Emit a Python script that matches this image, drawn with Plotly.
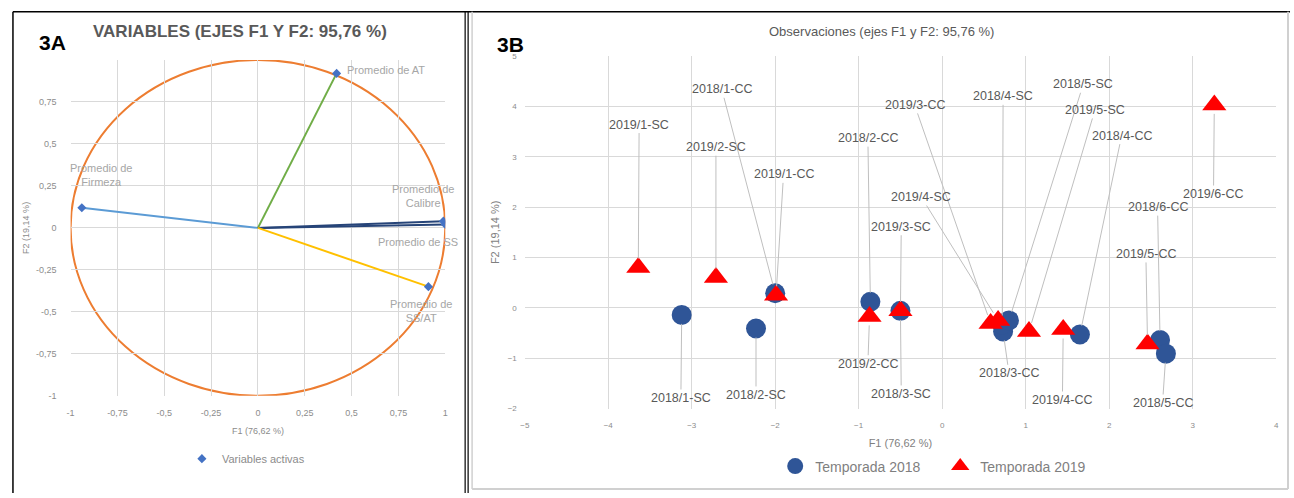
import plotly.graph_objects as go

W, H = 1294, 498

# ---------------- 3A : correlation circle (variables) ----------------
var_names = ["Promedio de<br>Firmeza", "Promedio de AT", "Promedio de<br>Calibre",
             "Promedio de SS", "Promedio de<br>SS/AT"]
var_f1 = [-0.94, 0.42, 0.99, 1.00, 0.91]
var_f2 = [0.12, 0.92, 0.04, 0.02, -0.35]

a_tickvals = [-1, -0.75, -0.5, -0.25, 0, 0.25, 0.5, 0.75, 1]
a_xticktext = ["-1", "-0,75", "-0,5", "-0,25", "0", "0,25", "0,5", "0,75", "1"]
a_yticktext = ["-1", "-0,75", "-0,5", "-0,25", "0", "0,25", "0,5", "0,75", ""]

# ---------------- 3B : observations ----------------
obs18_labels = ["2018/1-SC", "2018/2-SC", "2018/1-CC", "2018/2-CC", "2018/3-SC", "2018/3-CC",
                "2018/4-SC", "2018/5-SC", "2018/4-CC", "2018/6-CC", "2018/5-CC"]
obs18_f1 = [-3.12, -2.23, -2.00, -0.86, -0.50, 0.73, 0.72, 0.80, 1.65, 2.61, 2.68]
obs18_f2 = [-0.14, -0.41, 0.29, 0.12, -0.06, -0.47, -0.33, -0.25, -0.53, -0.64, -0.91]

obs19_labels = ["2019/1-SC", "2019/2-SC", "2019/1-CC", "2019/2-CC", "2019/3-SC", "2019/3-CC",
                "2019/4-SC", "2019/5-SC", "2019/4-CC", "2019/5-CC", "2019/6-CC"]
obs19_f1 = [-3.64, -2.71, -1.99, -0.87, -0.50, 0.58, 0.67, 1.04, 1.45, 2.46, 3.26]
obs19_f2 = [0.80, 0.60, 0.25, -0.17, -0.06, -0.31, -0.25, -0.47, -0.43, -0.72, 4.03]

b_xtickvals = [-5, -4, -3, -2, -1, 0, 1, 2, 3, 4]
b_ytickvals = [-2, -1, 0, 1, 2, 3, 4, 5]

# ---------------- layout-only settings (positions / styles) ----------------
var_colors = ["#5B9BD5", "#70AD47", "#264478", "#264478", "#FFC000"]
# label offsets (px) relative to each variable point: (xshift, yshift, xanchor)
var_label_off = [(19, 33, "center"), (8, 3, "left"), (13, 25, "right"),
                 (15, -17, "right"), (-7, -24, "center")]
# leader-line label positions in data units
lab_pos = {
    "2018/1-CC": (-2.64, 4.34), "2019/1-SC": (-3.63, 3.64), "2019/2-SC": (-2.71, 3.19),
    "2019/1-CC": (-1.90, 2.65), "2018/2-CC": (-0.89, 3.37), "2019/3-CC": (-0.33, 4.03),
    "2018/4-SC": (0.73, 4.20), "2018/5-SC": (1.69, 4.44), "2019/5-SC": (1.83, 3.93),
    "2018/4-CC": (2.15, 3.42), "2019/4-SC": (-0.25, 2.20), "2019/3-SC": (-0.49, 1.61),
    "2019/6-CC": (3.25, 2.26), "2018/6-CC": (2.58, 2.00), "2019/5-CC": (2.44, 1.07),
    "2018/1-SC": (-3.13, -1.79), "2018/2-SC": (-2.23, -1.73), "2019/2-CC": (-0.89, -1.11),
    "2018/3-SC": (-0.49, -1.71), "2018/3-CC": (0.80, -1.30), "2019/4-CC": (1.44, -1.83),
    "2018/5-CC": (2.64, -1.89),
}

FONT = "Liberation Sans, Arial, sans-serif"
GRID = "#D9D9D9"


def px_x(p):
    return p / W


def px_y(p):
    return 1 - p / H


fig = go.Figure()

# 3A vectors
for i in range(len(var_names)):
    fig.add_trace(go.Scatter(x=[0, var_f1[i]], y=[0, var_f2[i]], mode="lines",
                             line=dict(color=var_colors[i], width=2),
                             showlegend=False, hoverinfo="skip", xaxis="x", yaxis="y"))
fig.add_trace(go.Scatter(x=var_f1, y=var_f2, mode="markers", name="Variables activas",
                         marker=dict(symbol="diamond", size=7, color="#4472C4"),
                         xaxis="x", yaxis="y", legend="legend"))

# 3B observations
fig.add_trace(go.Scatter(x=obs18_f1, y=obs18_f2, mode="markers", name="Temporada 2018",
                         text=obs18_labels, marker=dict(symbol="circle", size=20, color="#2F5597"),
                         xaxis="x2", yaxis="y2", legend="legend2"))
fig.add_trace(go.Scatter(x=obs19_f1, y=obs19_f2, mode="markers", name="Temporada 2019",
                         text=obs19_labels, marker=dict(symbol="triangle-up", size=21, color="#FF0000"),
                         xaxis="x2", yaxis="y2", legend="legend2"))

annotations = []
# 3A labels
for i, name in enumerate(var_names):
    xs, ys, xa = var_label_off[i]
    annotations.append(dict(x=var_f1[i], y=var_f2[i], xref="x", yref="y", text=name,
                            showarrow=False, xshift=xs, yshift=ys, xanchor=xa, align="center",
                            font=dict(family=FONT, size=11, color="#A6A6A6")))
# 3B leader labels
for labs, xs_, ys_ in [(obs18_labels, obs18_f1, obs18_f2), (obs19_labels, obs19_f1, obs19_f2)]:
    for lab, xv, yv in zip(labs, xs_, ys_):
        lx, ly = lab_pos[lab]
        annotations.append(dict(x=xv, y=yv, xref="x2", yref="y2", ax=lx, ay=ly,
                                axref="x2", ayref="y2", text=lab, showarrow=True,
                                arrowhead=0, arrowwidth=1, arrowcolor="#BFBFBF", standoff=9,
                                font=dict(family=FONT, size=12.5, color="#595959")))
# titles
annotations += [
    dict(x=px_x(236), y=px_y(28), xref="paper", yref="paper", showarrow=False,
         xanchor="center", yanchor="middle",
         text="<b>VARIABLES (EJES F1 Y F2: 95,76 %)</b>",
         font=dict(family=FONT, size=17, color="#595959")),
    dict(x=px_x(48), y=px_y(39), xref="paper", yref="paper", showarrow=False,
         xanchor="center", yanchor="middle",
         text="<b>3A</b>", font=dict(family=FONT, size=21, color="#000000")),
    dict(x=px_x(882), y=px_y(28), xref="paper", yref="paper", showarrow=False,
         xanchor="center", yanchor="middle",
         text="Observaciones (ejes F1 y F2: 95,76 %)",
         font=dict(family=FONT, size=13, color="#595959")),
    dict(x=px_x(509), y=px_y(41), xref="paper", yref="paper", showarrow=False,
         xanchor="center", yanchor="middle",
         text="<b>3B</b>", font=dict(family=FONT, size=21, color="#000000")),
]

shapes = [
    # correlation circle
    dict(type="circle", xref="x", yref="y", x0=-1, y0=-1, x1=1, y1=1,
         line=dict(color="#ED7D31", width=2), layer="below"),
    # panel frames
    dict(type="line", xref="paper", yref="paper", x0=px_x(8), x1=px_x(1293), y0=px_y(8), y1=px_y(8),
         line=dict(color="#000000", width=1.5)),
    dict(type="line", xref="paper", yref="paper", x0=px_x(8), x1=px_x(8), y0=px_y(8), y1=px_y(498),
         line=dict(color="#000000", width=1.5)),
    dict(type="line", xref="paper", yref="paper", x0=px_x(463), x1=px_x(463), y0=px_y(8), y1=px_y(498),
         line=dict(color="#000000", width=1.2)),
    dict(type="line", xref="paper", yref="paper", x0=px_x(466), x1=px_x(466), y0=px_y(8), y1=px_y(498),
         line=dict(color="#000000", width=1.2)),
    dict(type="line", xref="paper", yref="paper", x0=px_x(470), x1=px_x(470), y0=px_y(8), y1=px_y(494),
         line=dict(color="#D0D0D0", width=1.5)),
    dict(type="line", xref="paper", yref="paper", x0=px_x(470), x1=px_x(1291), y0=px_y(494), y1=px_y(494),
         line=dict(color="#D0D0D0", width=2)),
    dict(type="line", xref="paper", yref="paper", x0=px_x(1291), x1=px_x(1291), y0=px_y(8), y1=px_y(494),
         line=dict(color="#D0D0D0", width=2)),
]

tickfont_a = dict(family=FONT, size=9, color="#8C8C8C")
tickfont_b = dict(family=FONT, size=8, color="#8C8C8C")

fig.update_layout(
    width=W, height=H, margin=dict(l=0, r=0, t=0, b=0),
    paper_bgcolor="white", plot_bgcolor="white",
    font=dict(family=FONT, color="#595959"),
    xaxis=dict(domain=[px_x(66), px_x(443)], range=[-1, 1], tickvals=a_tickvals, ticktext=a_xticktext,
               showgrid=True, gridcolor=GRID, zeroline=False, showline=False, ticks="",
               tickfont=tickfont_a, ticklabelstandoff=10, anchor="y",
               title=dict(text="F1 (76,62 %)", font=dict(family=FONT, size=9, color="#8C8C8C"), standoff=10)),
    yaxis=dict(domain=[px_y(399), px_y(57)], range=[-1, 1], tickvals=a_tickvals, ticktext=a_yticktext,
               showgrid=True, gridcolor=GRID, zeroline=False, showline=False, ticks="",
               tickfont=tickfont_a, ticklabelstandoff=13, anchor="x",
               title=dict(text="F2 (19,14 %)", font=dict(family=FONT, size=9, color="#8C8C8C"), standoff=4)),
    xaxis2=dict(domain=[px_x(523), px_x(1279)], range=[-5, 4], tickvals=b_xtickvals,
                showgrid=True, gridcolor=GRID, zeroline=False, showline=False, ticks="",
                tickfont=tickfont_b, ticklabelstandoff=10, anchor="y2",
                title=dict(text="F1 (76,62 %)", font=dict(family=FONT, size=11, color="#7F7F7F"), standoff=10)),
    yaxis2=dict(domain=[px_y(412), px_y(53)], range=[-2, 5], tickvals=b_ytickvals,
                showgrid=True, gridcolor=GRID, zeroline=False, showline=False, ticks="",
                tickfont=tickfont_b, ticklabelstandoff=7, anchor="x2",
                title=dict(text="F2 (19,14 %)", font=dict(family=FONT, size=11, color="#7F7F7F"), standoff=5)),
    legend=dict(x=px_x(178), y=px_y(463), xanchor="left", yanchor="middle", orientation="h",
                font=dict(family=FONT, size=11, color="#8C8C8C"), bgcolor="rgba(0,0,0,0)"),
    legend2=dict(x=px_x(775), y=px_y(471), xanchor="left", yanchor="middle", orientation="h",
                 entrywidth=120, entrywidthmode="pixels",
                 font=dict(family=FONT, size=14, color="#7F7F7F"), bgcolor="rgba(0,0,0,0)"),
    annotations=annotations,
    shapes=shapes,
)

fig.write_html("out.html", config={"displayModeBar": False},
               post_script="document.body.style.margin='0';document.body.style.overflow='hidden';")
